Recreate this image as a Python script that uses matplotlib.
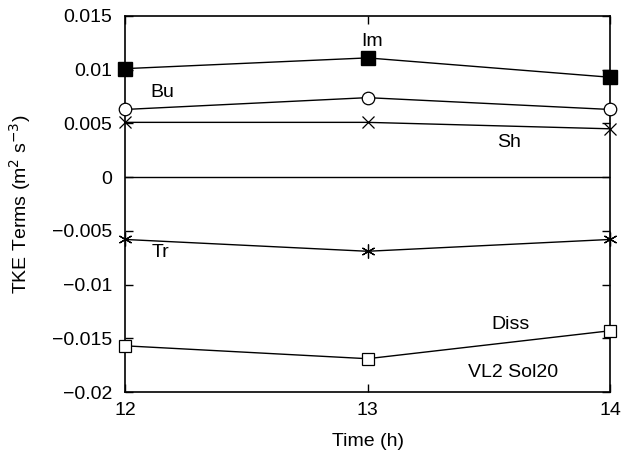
import numpy as np
import matplotlib.pyplot as plt

plt.rcParams['font.family'] = ['Liberation Sans', 'DejaVu Sans']
plt.rcParams['axes.unicode_minus'] = True

hours = [12, 13, 14]
im = [0.0101, 0.0111, 0.0093]
bu = [0.0063, 0.0074, 0.0063]
sh = [0.0051, 0.0051, 0.0045]
tr = [-0.0058, -0.0069, -0.0058]
diss = [-0.0157, -0.0169, -0.0143]

fig = plt.figure(figsize=(6.21, 4.57), dpi=100)
ax = fig.add_axes([0.2013, 0.1422, 0.7810, 0.8228])

kw = dict(color='black', lw=1.0, clip_on=False, zorder=3)
ax.plot(hours, im, marker='s', ms=9.5, mfc='black', mec='black', **kw)
ax.plot(hours, bu, marker='o', ms=9, mfc='white', mec='black', mew=0.9, **kw)
ax.plot(hours, sh, marker='x', ms=9, mew=0.9, **kw)
ax.plot(hours, tr, marker=(6, 2, 0), ms=10, mew=0.9, **kw)
ax.plot(hours, diss, marker='s', ms=9, mfc='white', mec='black', mew=0.9, **kw)
ax.axhline(0, color='black', lw=1.0)

ax.set_xlim(12, 14)
ax.set_ylim(-0.02, 0.015)
ax.set_xticks(hours)
ax.set_yticks([-0.02, -0.015, -0.01, -0.005, 0, 0.005, 0.01, 0.015])
ax.set_yticklabels(['\u22120.02', '\u22120.015', '\u22120.01', '\u22120.005',
                    '0', '0.005', '0.01', '0.015'])
ax.tick_params(direction='in', top=True, right=True, labelsize=14, length=6, width=1)
ax.tick_params(axis='y', pad=9)
ax.tick_params(axis='x', pad=7)
for s in ax.spines.values():
    s.set_linewidth(1.2)

ax.set_xlabel('Time (h)', fontsize=14, labelpad=10)
ax.set_ylabel('TKE Terms (m$^{2}$ s$^{-3}$)', fontsize=14, labelpad=14)

ax.text(13.02, 0.0126, 'Im', fontsize=14, ha='center', va='center')
ax.text(12.155, 0.0079, 'Bu', fontsize=14, ha='center', va='center')
ax.text(13.583, 0.0032, 'Sh', fontsize=14, ha='center', va='center')
ax.text(12.148, -0.0070, 'Tr', fontsize=14, ha='center', va='center')
ax.text(13.588, -0.0137, 'Diss', fontsize=14, ha='center', va='center')
ax.text(13.6, -0.01815, 'VL2 Sol20', fontsize=14, ha='center', va='center')

fig.savefig('out.png', dpi=100)
